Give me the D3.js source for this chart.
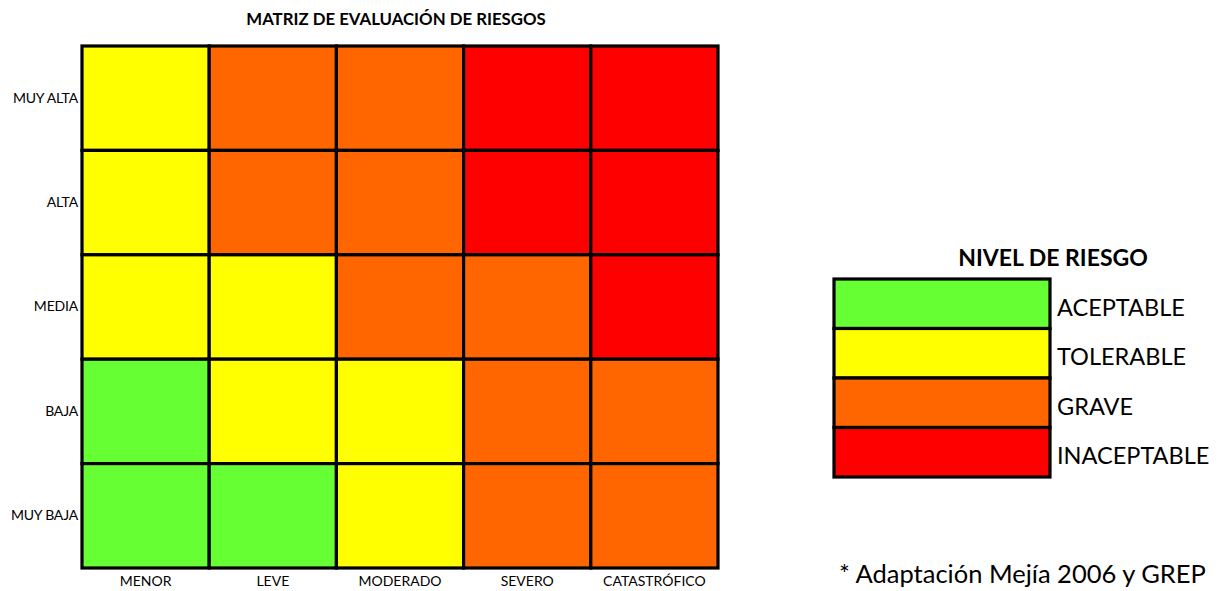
<!DOCTYPE html>
<html>
<head>
<meta charset="utf-8">
<script src="https://cdn.jsdelivr.net/npm/d3@7"></script>
<style>
  body { margin: 0; background: #fff; }
  svg { display: block; }
  text { font-family: Lato, "Open Sans", sans-serif; fill: #000; }
</style>
</head>
<body>
<svg id="chart" width="1224" height="591"></svg>
<script>
// Impact (columns) and probability (rows, top to bottom)
const impacts = ["MENOR", "LEVE", "MODERADO", "SEVERO", "CATASTRÓFICO"];
const probabilities = ["MUY ALTA", "ALTA", "MEDIA", "BAJA", "MUY BAJA"];

// Risk level of each cell, one list per probability row
const levelMuyAlta = ["TOLERABLE", "GRAVE", "GRAVE", "INACEPTABLE", "INACEPTABLE"];
const levelAlta    = ["TOLERABLE", "GRAVE", "GRAVE", "INACEPTABLE", "INACEPTABLE"];
const levelMedia   = ["TOLERABLE", "TOLERABLE", "GRAVE", "GRAVE", "INACEPTABLE"];
const levelBaja    = ["ACEPTABLE", "TOLERABLE", "TOLERABLE", "GRAVE", "GRAVE"];
const levelMuyBaja = ["ACEPTABLE", "ACEPTABLE", "TOLERABLE", "GRAVE", "GRAVE"];

// Legend levels and their colours
const levels = ["ACEPTABLE", "TOLERABLE", "GRAVE", "INACEPTABLE"];
const levelColors = ["#66FF33", "#FFFF00", "#FF6600", "#FF0000"];

const title = "MATRIZ DE EVALUACIÓN DE RIESGOS";
const legendTitle = "NIVEL DE RIESGO";
const footnote = "* Adaptación Mejía 2006 y GREP";

const rowsLevels = [levelMuyAlta, levelAlta, levelMedia, levelBaja, levelMuyBaja];
const cells = [];
probabilities.forEach((p, i) => {
  impacts.forEach((imp, j) => cells.push({ prob: p, impact: imp, level: rowsLevels[i][j] }));
});

const svg = d3.select("#chart");
const color = d3.scaleOrdinal().domain(levels).range(levelColors);

// Matrix area
const gx = 82, gy = 46, gw = 636, gh = 522;
const x = d3.scaleBand().domain(impacts).range([gx, gx + gw]);
const y = d3.scaleBand().domain(probabilities).range([gy, gy + gh]);

svg.append("text")
  .attr("x", 396).attr("y", 25)
  .attr("text-anchor", "middle")
  .style("font-weight", "bold").style("font-size", "16.8px")
  .text(title);

svg.append("g").selectAll("rect")
  .data(cells)
  .join("rect")
  .attr("x", d => x(d.impact))
  .attr("y", d => y(d.prob))
  .attr("width", x.bandwidth())
  .attr("height", y.bandwidth())
  .attr("fill", d => color(d.level))
  .attr("stroke", "#000")
  .attr("stroke-width", 3.2);

// Axes (labels only)
const xAxis = svg.append("g")
  .attr("transform", `translate(0,${gy + gh})`)
  .call(d3.axisBottom(x).tickSize(0).tickPadding(8));
xAxis.select(".domain").remove();
xAxis.selectAll("text")
  .style("font-family", "Lato, sans-serif")
  .style("font-size", "14px");

const yAxis = svg.append("g")
  .attr("transform", `translate(${gx - 4},0)`)
  .call(d3.axisLeft(y).tickSize(0).tickPadding(0));
yAxis.select(".domain").remove();
yAxis.selectAll("text")
  .style("font-family", "Lato, sans-serif")
  .style("font-size", "14px")
  .style("letter-spacing", "-0.2px");

// Legend
const lx = 834, ly = 279, lw = 216, lh = 198;
const ly_scale = d3.scaleBand().domain(levels).range([ly, ly + lh]);

svg.append("text")
  .attr("x", 1053).attr("y", 266)
  .attr("text-anchor", "middle")
  .style("font-weight", "bold").style("font-size", "23px")
  .text(legendTitle);

const leg = svg.append("g");
leg.selectAll("rect")
  .data(levels)
  .join("rect")
  .attr("x", lx)
  .attr("y", d => ly_scale(d))
  .attr("width", lw)
  .attr("height", ly_scale.bandwidth())
  .attr("fill", d => color(d))
  .attr("stroke", "#000")
  .attr("stroke-width", 3.2);

leg.selectAll("text")
  .data(levels)
  .join("text")
  .attr("x", lx + lw + 7)
  .attr("y", d => ly_scale(d) + ly_scale.bandwidth() / 2 + 12)
  .style("font-size", "23.5px")
  .text(d => d);

svg.append("text")
  .attr("x", 839).attr("y", 583)
  .style("font-size", "25.5px")
  .text(footnote);
</script>
</body>
</html>
